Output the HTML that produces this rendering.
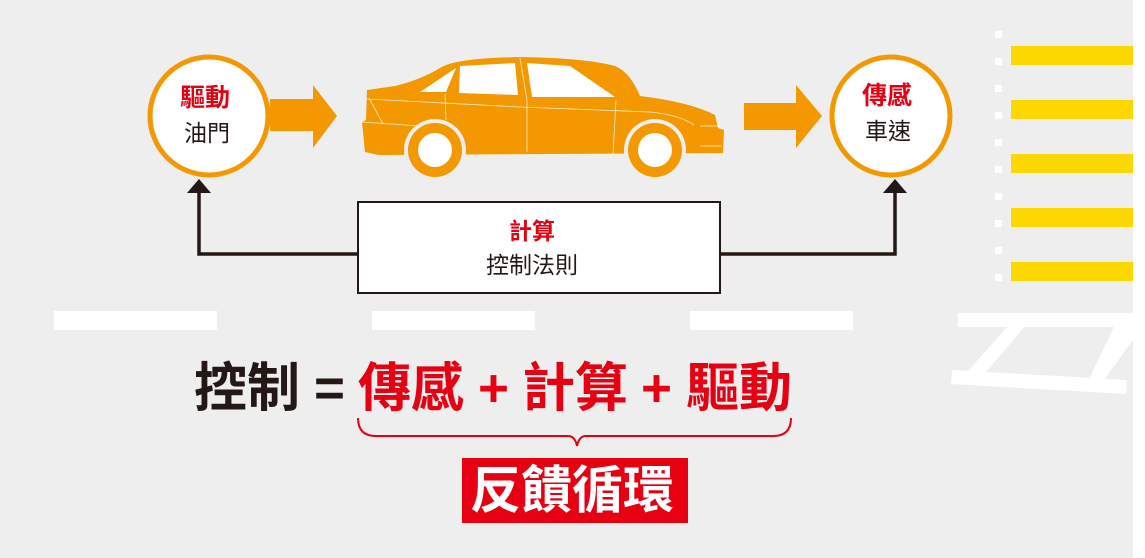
<!DOCTYPE html>
<html><head><meta charset="utf-8"><style>
html,body{margin:0;padding:0;background:#fff}
body{width:1145px;height:558px;overflow:hidden;position:relative}
.bg{position:absolute;left:0;top:0;width:1133px;height:558px;background:#eeeeee}
.t{position:absolute;font-family:"Liberation Sans","Noto Sans CJK TC",sans-serif;white-space:nowrap;line-height:1}
</style></head><body>
<div class="bg"></div>
<svg width="1145" height="558" style="position:absolute;left:0;top:0">
<rect x="54" y="311" width="163" height="19" fill="#fff"/>
<rect x="372" y="311" width="163" height="19" fill="#fff"/>
<rect x="690" y="311" width="163" height="19" fill="#fff"/>
<g fill="#fdd800">
<rect x="1011" y="46" width="122" height="19"/><rect x="1011" y="100" width="122" height="19"/>
<rect x="1011" y="154" width="122" height="19"/><rect x="1011" y="208" width="122" height="19"/>
<rect x="1011" y="262" width="122" height="19"/></g>
<g fill="#fff">
<rect x="995" y="31" width="7" height="7"/><rect x="995" y="58" width="7" height="7"/>
<rect x="995" y="85" width="7" height="7"/><rect x="995" y="112" width="7" height="7"/>
<rect x="995" y="139" width="7" height="7"/><rect x="995" y="166" width="7" height="7"/>
<rect x="995" y="193" width="7" height="7"/><rect x="995" y="220" width="7" height="7"/>
<rect x="995" y="247" width="7" height="7"/><rect x="995" y="274" width="7" height="7"/>
<rect x="958" y="313" width="175" height="14"/>
<polygon points="952,370 1127,380 1126,394 951,384"/>
<polygon points="1009,325 1026,325 986,372 968,371"/>
<polygon points="1115,325 1133,325 1133,340 1104,380 1089,379"/>
</g>
<polygon points="270,99 313,99 313,85 337,116 313,148 313,131 270,131" fill="#f39800"/>
<polygon points="744,103 796,103 796,85 822,116 796,148 796,130 744,130" fill="#f39800"/>
<circle cx="209" cy="116" r="59" fill="#fff" stroke="#f39800" stroke-width="5"/>
<circle cx="891" cy="116" r="59" fill="#fff" stroke="#f39800" stroke-width="5"/>
<polyline points="358,254 199,254 199,190" fill="none" stroke="#231815" stroke-width="3.5"/>
<polygon points="187,193 199,179 211,193" fill="#231815"/>
<polyline points="720,254 895,254 895,190" fill="none" stroke="#231815" stroke-width="3.5"/>
<polygon points="883,193 895,179 907,193" fill="#231815"/>
<rect x="358" y="202" width="362" height="91" fill="#fff" stroke="#231815" stroke-width="2"/>
<path d="M367,90 L395,86 Q420,80 440,68 Q455,58 520,57 Q585,58 615,66 Q630,72 640,96 Q690,102 715,115 L718,128 L724,130 L723,153 L378,155 L365,152 L362,122 L366,120 Z" fill="#f39800"/>
<polygon points="420,92 456,68 446,92" fill="#fff"/>
<polygon points="460,66 515,63 518,95 459,93" fill="#fff"/>
<polygon points="527,63 570,66 615,97 532,97" fill="#fff"/>
<g fill="none" stroke="#fff" stroke-width="0.8" opacity="0.8">
<path d="M367,99 L520,107 L650,112 Q680,115 694,125"/>
<path d="M445,94 L446,120"/><path d="M520,58 L527,100 L527,152"/><path d="M616,100 L613,155"/>
<path d="M369,98 L383,124"/><path d="M362,122 L420,126"/><path d="M700,126 L722,126"/><path d="M700,146 L722,146"/>
</g>
<circle cx="435" cy="150" r="31" fill="#eeeeee"/><circle cx="435" cy="150" r="27" fill="#f39800"/><circle cx="435" cy="150" r="17" fill="#fff"/>
<circle cx="655" cy="150" r="31" fill="#eeeeee"/><circle cx="655" cy="150" r="27" fill="#f39800"/><circle cx="655" cy="150" r="17" fill="#fff"/>
<path d="M358,418 Q358,436 376,436 L568,436 Q575,436 577,446 Q579,436 586,436 L773,436 Q791,436 791,418" fill="none" stroke="#e60012" stroke-width="2"/>
<rect x="462" y="458" width="226" height="65" fill="#e60012"/>
</svg>
<div class="t" style="left:180px;top:86px;font-size:25px;font-weight:bold;color:#e60012">驅動</div>
<div class="t" style="left:184px;top:122px;font-size:23px;color:#231815">油門</div>
<div class="t" style="left:862px;top:84px;font-size:25px;font-weight:bold;color:#e60012">傳感</div>
<div class="t" style="left:865px;top:120px;font-size:23px;color:#231815">車速</div>
<div class="t" style="left:509px;top:220px;font-size:23px;font-weight:bold;color:#e60012">計算</div>
<div class="t" style="left:486px;top:254px;font-size:23px;color:#231815">控制法則</div>
<div class="t" style="left:194px;top:362px;font-size:53px;font-weight:bold;color:#231815">控制</div>
<div class="t" style="left:314px;top:362px;font-size:53px;font-weight:bold;color:#231815">=</div>
<div class="t" style="left:358px;top:362px;font-size:53px;font-weight:bold;color:#e60012">傳感</div>
<div class="t" style="left:478px;top:362px;font-size:53px;font-weight:bold;color:#e60012">+</div>
<div class="t" style="left:522px;top:362px;font-size:53px;font-weight:bold;color:#e60012">計算</div>
<div class="t" style="left:641px;top:362px;font-size:53px;font-weight:bold;color:#e60012">+</div>
<div class="t" style="left:686px;top:362px;font-size:53px;font-weight:bold;color:#e60012">驅動</div>
<div class="t" style="left:470px;top:465px;font-size:51px;font-weight:bold;color:#fff">反饋循環</div>
</body></html>
